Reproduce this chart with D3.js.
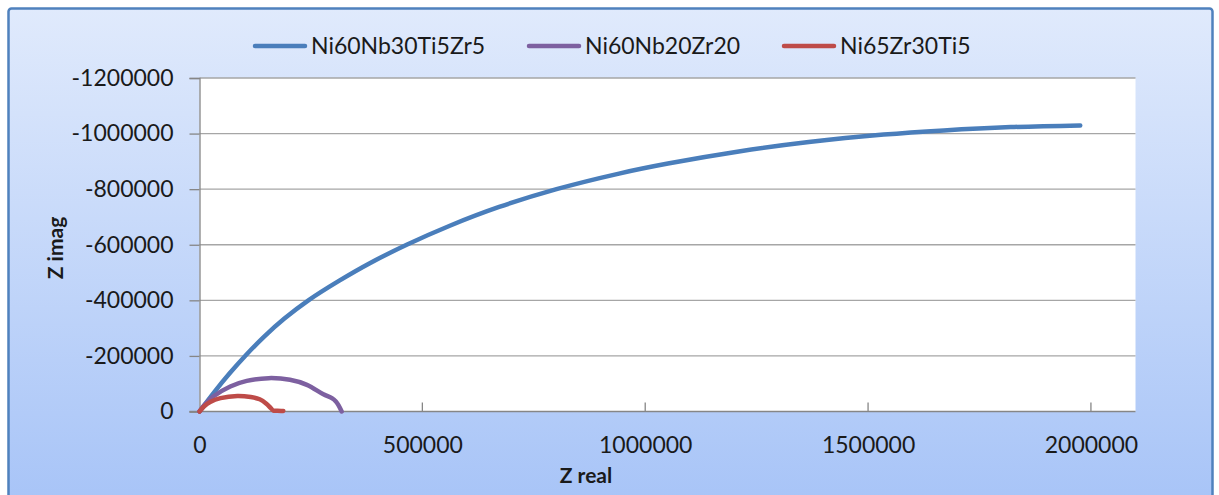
<!DOCTYPE html>
<html>
<head>
<meta charset="utf-8">
<script src="https://cdn.jsdelivr.net/npm/d3@7/dist/d3.min.js"></script>
<style>
  html, body { margin: 0; padding: 0; background: #ffffff; }
  svg { display: block; }
  text { font-family: Lato, "Open Sans", sans-serif; fill: #1a1a1a; }
</style>
</head>
<body>
<svg id="chart" width="1219" height="495"></svg>
<script>
// Nyquist data: [Z real, Z imag] in ohm
const seriesNames = ["Ni60Nb30Ti5Zr5", "Ni60Nb20Zr20", "Ni65Zr30Ti5"];
const seriesColors = ["#4a7ebb", "#7d60a0", "#be4b48"];

const ni60Nb30Ti5Zr5 = [
  [0, 0], [33600, -70900], [67200, -136700], [102400, -200000], [145700, -270500],
  [190500, -334500], [244300, -400000], [313700, -470800], [381000, -532700],
  [464800, -600000], [560300, -667600], [672300, -735900], [801000, -800000],
  [941200, -856100], [1051000, -892100], [1210000, -935600], [1367000, -969400],
  [1535000, -996400], [1670000, -1011500], [1820000, -1023300], [1976000, -1029500]
];
const ni60Nb20Zr20 = [
  [0, 0], [12000, -25000], [31000, -54000], [69000, -90000], [106000, -110000],
  [155000, -120000], [203000, -114000], [241000, -96000], [278000, -62000],
  [297000, -48000], [306000, -36000], [312000, -22000], [319000, 0]
];
const ni65Zr30Ti5 = [
  [0, 0], [10000, -18000], [24000, -34000], [47000, -48000], [85000, -56000],
  [115000, -52000], [135000, -44000], [150000, -28000], [160000, -12000],
  [166000, -3000], [175000, -3000], [188000, -2000]
];
const allSeries = [ni60Nb30Ti5Zr5, ni60Nb20Zr20, ni65Zr30Ti5];

const xTicks = [0, 500000, 1000000, 1500000, 2000000];
const yTicks = [0, -200000, -400000, -600000, -800000, -1000000, -1200000];
const xTitle = "Z real";
const yTitle = "Z imag";

const plot = { left: 199.5, right: 1135.5, top: 78, bottom: 411.5 };

const svg = d3.select("#chart");
const defs = svg.append("defs");
const grad = defs.append("linearGradient")
  .attr("id", "areaFill").attr("x1", 0).attr("y1", 0).attr("x2", 0).attr("y2", 1);
grad.append("stop").attr("offset", "0%").attr("stop-color", "#e0eafc");
grad.append("stop").attr("offset", "100%").attr("stop-color", "#a6c3f7");

// chart area with blue frame
svg.append("rect")
  .attr("x", 8.5).attr("y", 8.5).attr("width", 1204).attr("height", 510)
  .attr("rx", 3)
  .attr("fill", "url(#areaFill)")
  .attr("stroke", "#4f81bd").attr("stroke-width", 2.5);

// plot area
svg.append("rect")
  .attr("x", plot.left).attr("y", plot.top)
  .attr("width", plot.right - plot.left).attr("height", plot.bottom - plot.top)
  .attr("fill", "#ffffff");

const x = d3.scaleLinear().domain([0, 2100000]).range([plot.left, plot.right]);
const y = d3.scaleLinear().domain([0, -1200000]).range([plot.bottom, plot.top]);

// horizontal gridlines
svg.append("g")
  .selectAll("line").data(yTicks.filter(d => d !== 0)).join("line")
  .attr("x1", plot.left).attr("x2", plot.right)
  .attr("y1", d => y(d)).attr("y2", d => y(d))
  .attr("stroke", "#a6a6a6").attr("stroke-width", 1.3);

// y axis (ticks outside, to the left)
const yAxis = svg.append("g")
  .attr("transform", `translate(${plot.left},0)`)
  .call(d3.axisLeft(y).tickValues(yTicks).tickSize(10).tickPadding(16).tickFormat(d3.format("d")));
yAxis.select(".domain").attr("stroke", "#868686").attr("stroke-width", 1.3);
yAxis.selectAll(".tick line").attr("stroke", "#868686").attr("stroke-width", 1.3);
yAxis.selectAll(".tick text")
  .attr("font-size", 23).attr("font-family", "Lato, 'Open Sans', sans-serif").attr("fill", "#1a1a1a")
  .text(d => d === 0 ? "0" : "-" + Math.abs(d));

// x axis (ticks pointing into the plot)
const xAxis = svg.append("g")
  .attr("transform", `translate(0,${plot.bottom})`)
  .call(d3.axisBottom(x).tickValues(xTicks).tickSize(0).tickPadding(25).tickFormat(d3.format("d")));
xAxis.select(".domain").remove();
xAxis.selectAll(".tick text")
  .attr("font-size", 23).attr("font-family", "Lato, 'Open Sans', sans-serif").attr("fill", "#1a1a1a");
svg.append("g").selectAll("line").data(xTicks.slice(1)).join("line")
  .attr("x1", d => x(d)).attr("x2", d => x(d))
  .attr("y1", plot.bottom).attr("y2", plot.bottom - 9)
  .attr("stroke", "#868686").attr("stroke-width", 1.3);
svg.append("line")
  .attr("x1", plot.left - 10).attr("x2", plot.right)
  .attr("y1", plot.bottom).attr("y2", plot.bottom)
  .attr("stroke", "#868686").attr("stroke-width", 1.3);

// axis titles
svg.append("text")
  .attr("x", 586).attr("y", 483)
  .attr("text-anchor", "middle")
  .attr("font-size", 21).attr("font-weight", "bold")
  .text(xTitle);
svg.append("text")
  .attr("transform", "translate(63,248) rotate(-90)")
  .attr("text-anchor", "middle")
  .attr("font-size", 21).attr("font-weight", "bold")
  .text(yTitle);

// series curves
const line = d3.line()
  .x(d => x(d[0])).y(d => y(d[1]))
  .curve(d3.curveCatmullRom.alpha(0.5));
svg.append("g")
  .selectAll("path").data(allSeries).join("path")
  .attr("d", line)
  .attr("fill", "none")
  .attr("stroke", (d, i) => seriesColors[i])
  .attr("stroke-width", 4.5)
  .attr("stroke-linecap", "round")
  .attr("stroke-linejoin", "round");

// legend
const legendX = [255, 529, 784];
const lg = svg.append("g").selectAll("g").data(seriesNames).join("g")
  .attr("transform", (d, i) => `translate(${legendX[i]},46)`);
lg.append("line")
  .attr("x1", 0).attr("x2", 50).attr("y1", 0).attr("y2", 0)
  .attr("stroke", (d, i) => seriesColors[i])
  .attr("stroke-width", 4.5).attr("stroke-linecap", "round");
lg.append("text")
  .attr("x", 56).attr("y", 8)
  .attr("font-size", 23)
  .text(d => d);
</script>
</body>
</html>
